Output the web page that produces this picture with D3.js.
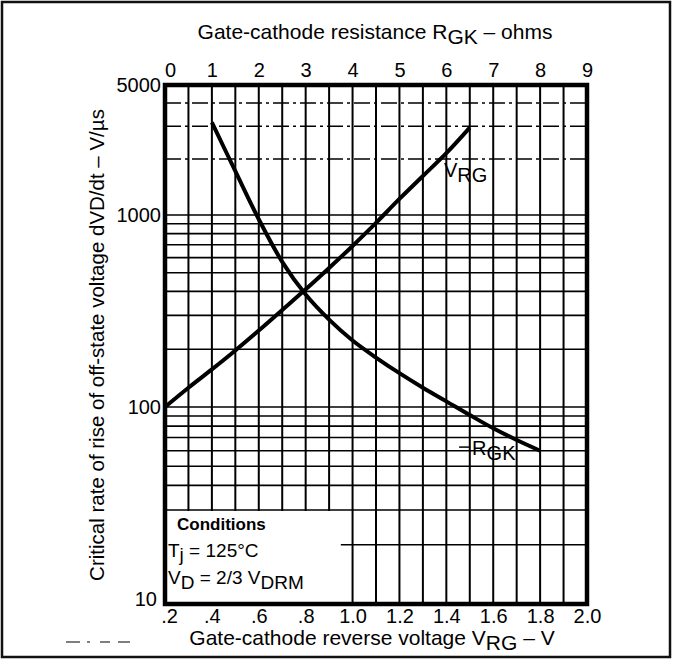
<!DOCTYPE html>
<html>
<head>
<meta charset="utf-8">
<script src="https://cdn.jsdelivr.net/npm/d3@7/dist/d3.min.js"></script>
<style>
  body { margin: 0; background: #fff; }
  svg text { font-family: "Liberation Sans", Arial, Helvetica, sans-serif; fill: #000; }
</style>
</head>
<body>
<svg id="chart" width="677" height="660"></svg>
<script>
"use strict";

// R_GK curve, read against the top axis (ohms)
var rgkOhms = [1, 1.5, 2, 2.5, 3, 3.5, 4, 4.5, 5, 5.5, 6, 6.5, 7, 7.5, 8];
var rgkRate = [3150, 1720, 950, 570, 385, 285, 222, 181, 150, 126, 107, 91, 78, 68, 60];

// V_RG curve, read against the bottom axis (volts)
var vrgVolts = [0.2, 0.3, 0.4, 0.5, 0.6, 0.7, 0.8, 0.9, 1.0, 1.1, 1.2, 1.3, 1.4, 1.5];
var vrgRate = [100, 126, 157, 197, 250, 320, 410, 530, 690, 910, 1220, 1620, 2150, 2950];

// tick labels
var voltTicks = [0.2, 0.4, 0.6, 0.8, 1.0, 1.2, 1.4, 1.6, 1.8, 2.0];
var voltLabels = [".2", ".4", ".6", ".8", "1.0", "1.2", "1.4", "1.6", "1.8", "2.0"];
var ohmTicks = [0, 1, 2, 3, 4, 5, 6, 7, 8, 9];
var rateTicks = [10, 100, 1000, 5000];

var pLeft = 165, pRight = 587, pTop = 85, pBottom = 604;

var svg = d3.select("#chart");

var xV = d3.scaleLinear().domain([0.2, 2.0]).range([pLeft, pRight]);
var xR = d3.scaleLinear().domain([0, 9]).range([pLeft, pRight]);
// the printed log paper is slightly uneven from decade to decade
var y = d3.scaleLog().domain([10, 100, 1000, 5000]).range([pBottom, 407, 215, pTop]);

// outer frame
svg.append("rect")
    .attr("x", 2).attr("y", 2)
    .attr("width", 668).attr("height", 655)
    .attr("fill", "none")
    .attr("stroke", "#111")
    .attr("stroke-width", 2.5);

var grid = svg.append("g");

// horizontal log grid
var hLines = y.ticks().filter(function (d) { return d > 10 && d < 5000; });
grid.selectAll("line.h").data(hLines).enter().append("line")
    .attr("class", "h")
    .attr("x1", pLeft).attr("x2", pRight)
    .attr("y1", function (d) { return y(d); })
    .attr("y2", function (d) { return y(d); })
    .attr("stroke", "#000")
    .attr("stroke-width", 1.6)
    .attr("stroke-dasharray", function (d) { return d > 1000 ? "16,4,3,4" : null; });

// vertical grid every 0.1 V (half ohm)
var vLines = d3.range(3, 20).map(function (i) { return i / 10; });
grid.selectAll("line.v").data(vLines).enter().append("line")
    .attr("class", "v")
    .attr("x1", function (d) { return xV(d); })
    .attr("x2", function (d) { return xV(d); })
    .attr("y1", pTop).attr("y2", pBottom)
    .attr("stroke", "#000")
    .attr("stroke-width", 2);

// conditions box blanks the grid in the corner
svg.append("rect")
    .attr("x", pLeft + 2)
    .attr("y", y(30) + 1)
    .attr("width", xV(0.95) - pLeft - 2)
    .attr("height", pBottom - y(30) - 3)
    .attr("fill", "#fff");

// plot frame
svg.append("rect")
    .attr("x", pLeft).attr("y", pTop)
    .attr("width", pRight - pLeft).attr("height", pBottom - pTop)
    .attr("fill", "none")
    .attr("stroke", "#000")
    .attr("stroke-width", 4.5);

// curves
var lineR = d3.line()
    .x(function (d, i) { return xR(rgkOhms[i]); })
    .y(function (d) { return y(d); })
    .curve(d3.curveCatmullRom);
var lineV = d3.line()
    .x(function (d, i) { return xV(vrgVolts[i]); })
    .y(function (d) { return y(d); })
    .curve(d3.curveCatmullRom);

svg.append("path").datum(rgkRate)
    .attr("d", lineR)
    .attr("fill", "none")
    .attr("stroke", "#000")
    .attr("stroke-width", 4);
svg.append("path").datum(vrgRate)
    .attr("d", lineV)
    .attr("fill", "none")
    .attr("stroke", "#000")
    .attr("stroke-width", 4);

// axes: labels only, the grid stands in for ticks
var axisBottom = d3.axisBottom(xV)
    .tickValues(voltTicks)
    .tickSize(0)
    .tickPadding(0)
    .tickFormat(function (d, i) { return voltLabels[i]; });
var gb = svg.append("g").attr("transform", "translate(0," + (pBottom + 5) + ")").call(axisBottom);

var axisTop = d3.axisTop(xR).tickValues(ohmTicks).tickSize(0).tickPadding(0);
var gt = svg.append("g").attr("transform", "translate(0," + (pTop - 8) + ")").call(axisTop);

var axisLeft = d3.axisLeft(y).tickValues(rateTicks).tickSize(0).tickPadding(0).tickFormat(d3.format("d"));
var gl = svg.append("g").attr("transform", "translate(" + (pLeft - 4) + ",0)").call(axisLeft);

[gb, gt, gl].forEach(function (g) {
  g.select(".domain").remove();
  g.selectAll("text")
    .style("font-family", "'Liberation Sans', Arial, sans-serif")
    .style("font-size", "20px")
    .attr("fill", "#000");
});
// corner labels sit a little off their lines in the print
gb.selectAll("text").filter(function (d) { return d === 0.2; }).attr("dx", 4);
gt.selectAll("text").filter(function (d) { return d === 0; }).attr("dx", 5);
gl.selectAll("text").filter(function (d) { return d === 10; }).attr("dy", "0.05em").attr("x", -4);

// axis titles with lowered subscripts
function titled(g, parts, size) {
  var t = g.append("text").style("font-size", size + "px");
  parts.forEach(function (p) {
    t.append("tspan")
      .attr("dy", p[1])
      .text(p[0]);
  });
  return t;
}

titled(svg.append("g").attr("transform", "translate(375,39)"),
  [["Gate-cathode resistance R", 0], ["GK", 5], [" \u2013 ohms", -5]], 21)
  .attr("text-anchor", "middle");

titled(svg.append("g").attr("transform", "translate(372,645)"),
  [["Gate-cathode reverse voltage V", 0], ["RG", 5], [" \u2013 V", -5]], 21)
  .attr("text-anchor", "middle");

svg.append("text")
    .attr("transform", "translate(104,345) rotate(-90)")
    .attr("text-anchor", "middle")
    .style("font-size", "20.5px")
    .text("Critical rate of rise of off-state voltage dVD/dt \u2013 V/\u00b5s");

// curve labels
titled(svg.append("g").attr("transform", "translate(" + xV(1.39) + "," + y(1600) + ")"),
  [["V", 0], ["RG", 5]], 20);

var rl = svg.append("g").attr("transform", "translate(" + xR(6.55) + "," + y(57) + ")");
rl.append("line")
    .attr("x1", -13).attr("x2", -2)
    .attr("y1", -8).attr("y2", -8)
    .attr("stroke", "#000").attr("stroke-width", 1.5);
titled(rl, [["R", 0], ["GK", 5]], 20);

// conditions note
var note = svg.append("g").attr("transform", "translate(" + (pLeft + 12) + ",0)");
note.append("text")
    .attr("y", 530)
    .style("font-size", "17px")
    .style("font-weight", "bold")
    .text("Conditions");
titled(note.append("g").attr("transform", "translate(-9,557)"),
  [["T", 0], ["j", 4], [" = 125\u00b0C", -4]], 19);
titled(note.append("g").attr("transform", "translate(-9,584)"),
  [["V", 0], ["D", 5], [" = 2/3 V", -5], ["DRM", 5]], 19);

// remnants of the figure caption, cut off by the scan
var scraps = [[66, 80], [87, 90], [100, 110], [118, 130]];
svg.selectAll("line.scrap").data(scraps).enter().append("line")
    .attr("class", "scrap")
    .attr("x1", function (d) { return d[0]; })
    .attr("x2", function (d) { return d[1]; })
    .attr("y1", 642).attr("y2", 642)
    .attr("stroke", "#555")
    .attr("stroke-width", 1.5);
</script>
</body>
</html>
